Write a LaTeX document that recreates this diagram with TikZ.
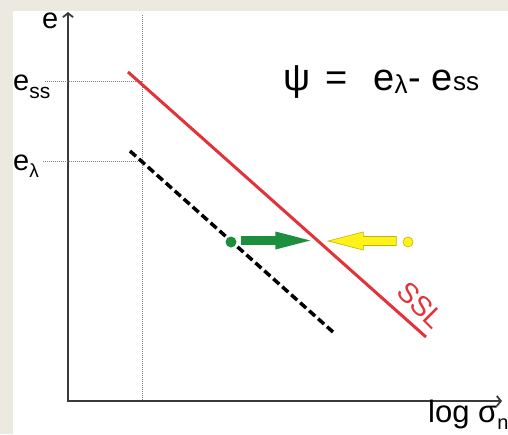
\documentclass[tikz,border=0pt]{standalone}
\usepackage{fontspec}
\setmainfont{Liberation Sans}
\usetikzlibrary{arrows.meta,shapes.arrows}
\definecolor{sslred}{HTML}{E2323A}
\definecolor{ncgreen}{HTML}{1C8F3E}
\definecolor{ncyellow}{HTML}{FFF21A}
\definecolor{ncolive}{HTML}{C4B400}
\definecolor{pagebeige}{HTML}{ECEAE0}
\definecolor{axisgray}{HTML}{3A3A3A}
\newcommand{\lowsub}[3]{\raisebox{#1}{\fontsize{#2}{#2}\selectfont #3}}

\begin{document}
\begin{tikzpicture}[x=1pt,y=-1pt,
  ax/.style={line width=1.8pt,draw=axisgray},
  guide/.style={draw=gray,line width=0.8pt,dash pattern=on 1pt off 1pt},
  lbl/.style={font=\fontsize{29}{29}\selectfont,inner sep=0pt,anchor=base west},
  dotn/.style={circle,minimum size=11pt,inner sep=0pt},
  blk/.style={single arrow,anchor=tip,inner xsep=0pt,inner ysep=4.2pt,single arrow head extend=4.6pt,single arrow tip angle=29}]
% page
\fill[pagebeige] (0,0) rectangle (508,434);
\fill[white] (13,11) rectangle (508,434);
\useasboundingbox (0,0) rectangle (508,434);
% axes
\coordinate (O) at (68,401);
\coordinate (ytop) at (68,12);
\coordinate (xend) at (502,401);
\draw[ax,{Straight Barb[length=4pt,width=10pt]}-{Straight Barb[length=4pt,width=10pt]}] (ytop) -- (O) -- (xend);
\node[lbl] (elab) at (42,28) {e};
\node[font=\fontsize{31}{31}\selectfont,inner sep=0pt,anchor=base west] (xlab) at (428,422) {log σ\lowsub{-7pt}{20}{n}};
% guides
\coordinate (vtop) at (142,15);
\coordinate (vbot) at (142,401);
\coordinate (gss) at (45,81);
\coordinate (gss') at (142,81);
\coordinate (glam) at (43,161);
\coordinate (glam') at (142,161);
\draw[guide] (vtop) -- (vbot);
\draw[guide] (gss) -- (gss');
\draw[guide] (glam) -- (glam');
\node[lbl] (esslab) at (13,90) {e\lowsub{-8pt}{21}{ss}};
\node[lbl] (elamlab) at (13,170) {e\lowsub{-7pt}{19}{λ}};
% lines
\coordinate (ssl1) at (128,72);
\coordinate (ssl2) at (426,337);
\coordinate (ncl1) at (130,151);
\coordinate (ncl2) at (333,332);
\draw[sslred,line width=3pt] (ssl1) -- (ssl2);
\draw[black,line width=3.5pt,dash pattern=on 8pt off 4pt] (ncl1) -- (ncl2);
\node[text=sslred,font=\fontsize{28}{28}\selectfont,inner sep=0pt,rotate=-45] (ssltxt) at (421,305) {SSL};
% states
\node[dotn,fill=ncgreen] (gdot) at (231,242) {};
\node[dotn,fill=ncyellow,draw=ncolive,line width=0.6pt,minimum size=10pt] (ydot) at (408,242) {};
\node[blk,fill=ncgreen,minimum height=69pt] (garr) at (311,240.5) {};
\node[blk,fill=ncyellow,draw=ncolive,line width=0.6pt,minimum height=68pt,shape border rotate=180] (yarr) at (327,241) {};
% formula
\node[inner sep=0pt,anchor=base west,font=\fontsize{38}{38}\selectfont] (psi) at (283,90) {ψ\hspace{5pt} =\hspace{15pt} e\lowsub{-3pt}{26}{λ}\hspace{1pt}- e\lowsub{0pt}{26}{ss}};
\end{tikzpicture}
\end{document}
